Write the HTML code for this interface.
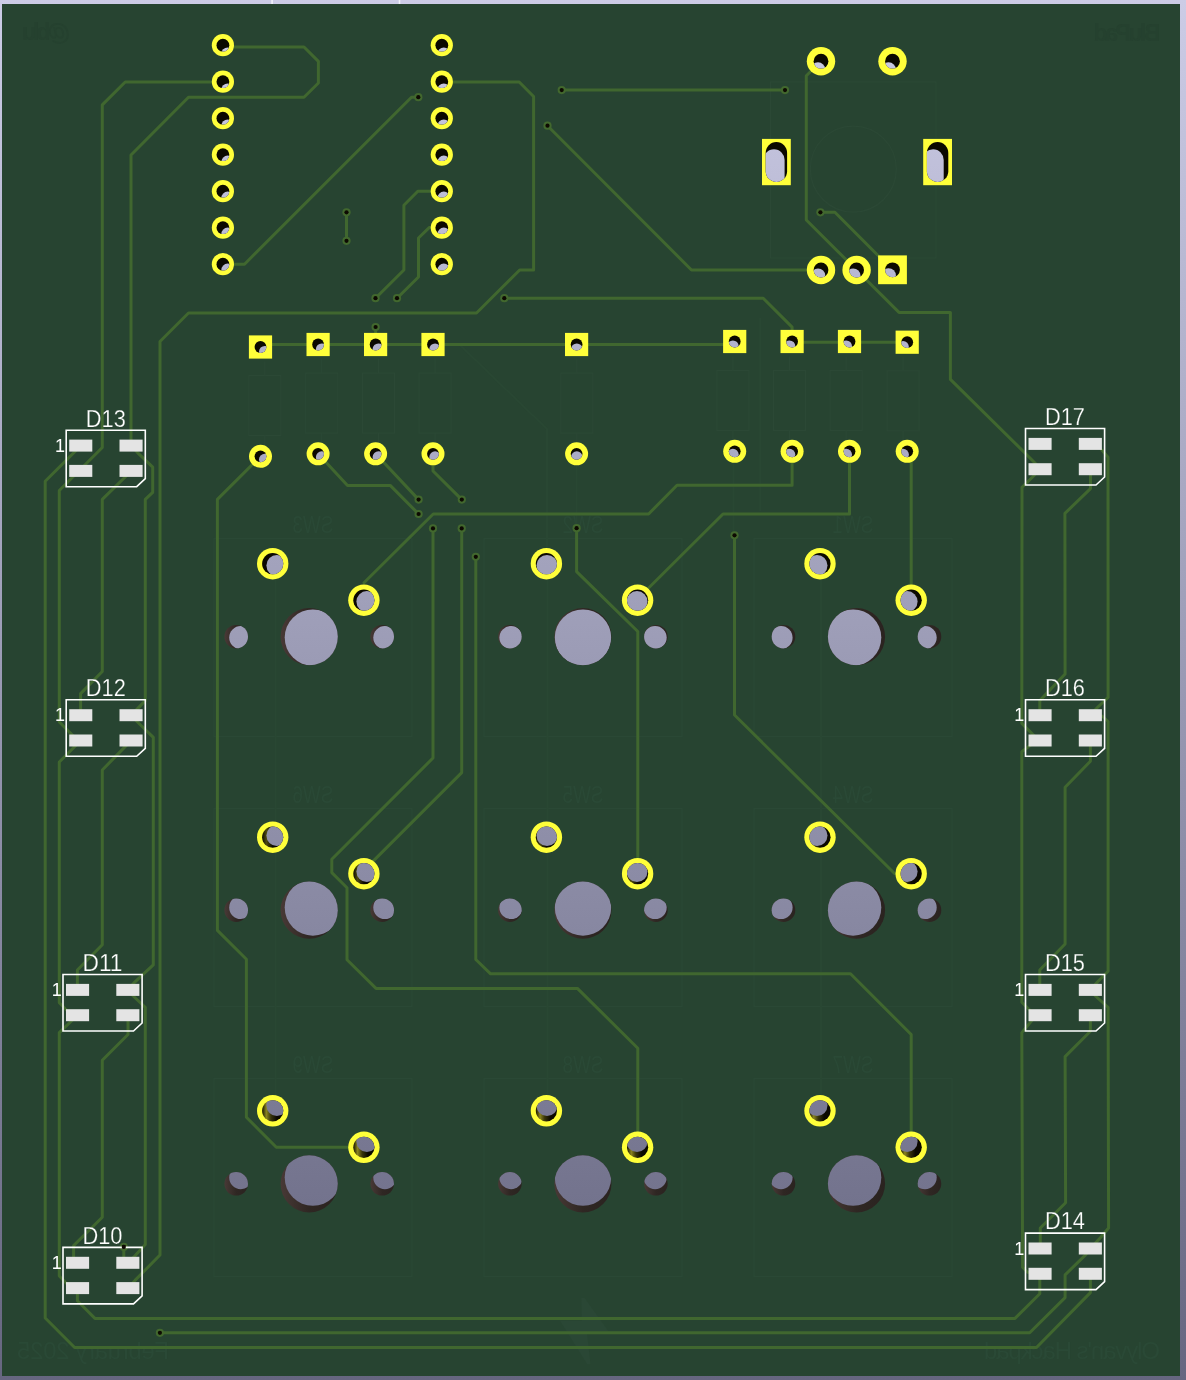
<!DOCTYPE html>
<html lang="en"><head><meta charset="utf-8"><title>Hackpad PCB 3D view</title>
<style>
html,body{margin:0;padding:0;width:1186px;height:1380px;overflow:hidden;background:linear-gradient(#cccce6,#666680);}
svg{display:block;position:absolute;left:0;top:0;will-change:transform;font-family:"Liberation Sans",sans-serif;}
</style></head><body>
<svg width="1186" height="1380" viewBox="0 0 1186 1380">
<defs>
<linearGradient id="bg" gradientUnits="userSpaceOnUse" x1="0" y1="0" x2="0" y2="1380"><stop offset="0" stop-color="#cccce6"/><stop offset="1" stop-color="#666680"/></linearGradient>
<linearGradient id="gw3"><stop offset="0" stop-color="#151200"/><stop offset="0.2" stop-color="#8a8420"/><stop offset="0.42" stop-color="#38340a"/><stop offset="0.7" stop-color="#0b0900"/></linearGradient>
<linearGradient id="gw2"><stop offset="0" stop-color="#0f0c00"/><stop offset="0.2" stop-color="#4c4810"/><stop offset="0.5" stop-color="#0b0900"/></linearGradient>
<linearGradient id="gnp"><stop offset="0" stop-color="#483936"/><stop offset="0.5" stop-color="#2f2723"/><stop offset="1" stop-color="#2a2320"/></linearGradient>
<clipPath id="h1"><circle cx="222.9" cy="45.2" r="6.4"/></clipPath>
<clipPath id="h2"><circle cx="441.8" cy="45.2" r="6.4"/></clipPath>
<clipPath id="h3"><circle cx="222.9" cy="81.7" r="6.4"/></clipPath>
<clipPath id="h4"><circle cx="441.8" cy="81.7" r="6.4"/></clipPath>
<clipPath id="h5"><circle cx="222.9" cy="118.2" r="6.4"/></clipPath>
<clipPath id="h6"><circle cx="441.8" cy="118.2" r="6.4"/></clipPath>
<clipPath id="h7"><circle cx="222.9" cy="154.7" r="6.4"/></clipPath>
<clipPath id="h8"><circle cx="441.8" cy="154.7" r="6.4"/></clipPath>
<clipPath id="h9"><circle cx="222.9" cy="191.2" r="6.4"/></clipPath>
<clipPath id="h10"><circle cx="441.8" cy="191.2" r="6.4"/></clipPath>
<clipPath id="h11"><circle cx="222.9" cy="227.7" r="6.4"/></clipPath>
<clipPath id="h12"><circle cx="441.8" cy="227.7" r="6.4"/></clipPath>
<clipPath id="h13"><circle cx="222.9" cy="264.2" r="6.4"/></clipPath>
<clipPath id="h14"><circle cx="441.8" cy="264.2" r="6.4"/></clipPath>
<clipPath id="h15"><circle cx="821.0" cy="61.2" r="7.4"/></clipPath>
<clipPath id="h16"><circle cx="892.5" cy="61.2" r="7.4"/></clipPath>
<clipPath id="h17"><circle cx="821.0" cy="270.0" r="7.4"/></clipPath>
<clipPath id="h18"><circle cx="856.6" cy="270.0" r="7.4"/></clipPath>
<clipPath id="h19"><circle cx="892.5" cy="269.8" r="7.4"/></clipPath>
<clipPath id="h20"><rect x="765.7" y="142" width="21.4" height="40" rx="10.7"/></clipPath>
<clipPath id="h21"><rect x="926.9" y="142" width="21.4" height="40" rx="10.7"/></clipPath>
<clipPath id="h22"><circle cx="260.5" cy="347.0" r="5.9"/></clipPath>
<clipPath id="h23"><circle cx="260.5" cy="456.3" r="5.9"/></clipPath>
<clipPath id="h24"><circle cx="318.1" cy="344.5" r="5.9"/></clipPath>
<clipPath id="h25"><circle cx="318.1" cy="453.8" r="5.9"/></clipPath>
<clipPath id="h26"><circle cx="375.6" cy="344.5" r="5.9"/></clipPath>
<clipPath id="h27"><circle cx="375.6" cy="453.8" r="5.9"/></clipPath>
<clipPath id="h28"><circle cx="433.0" cy="344.5" r="5.9"/></clipPath>
<clipPath id="h29"><circle cx="433.0" cy="453.8" r="5.9"/></clipPath>
<clipPath id="h30"><circle cx="576.6" cy="344.5" r="5.9"/></clipPath>
<clipPath id="h31"><circle cx="576.6" cy="453.8" r="5.9"/></clipPath>
<clipPath id="h32"><circle cx="734.7" cy="341.5" r="5.9"/></clipPath>
<clipPath id="h33"><circle cx="734.7" cy="451.3" r="5.9"/></clipPath>
<clipPath id="h34"><circle cx="792.1" cy="341.5" r="5.9"/></clipPath>
<clipPath id="h35"><circle cx="792.1" cy="451.3" r="5.9"/></clipPath>
<clipPath id="h36"><circle cx="849.5" cy="341.5" r="5.9"/></clipPath>
<clipPath id="h37"><circle cx="849.5" cy="451.3" r="5.9"/></clipPath>
<clipPath id="h38"><circle cx="907.2" cy="342.2" r="5.9"/></clipPath>
<clipPath id="h39"><circle cx="907.2" cy="451.3" r="5.9"/></clipPath>
<clipPath id="h40"><circle cx="309.2" cy="636.7" r="28.6"/></clipPath>
<clipPath id="h41"><circle cx="236.2" cy="636.7" r="11.8"/></clipPath>
<clipPath id="h42"><circle cx="382.2" cy="636.7" r="11.8"/></clipPath>
<clipPath id="h43"><circle cx="272.7" cy="563.7" r="10.6"/></clipPath>
<clipPath id="h44"><circle cx="363.9" cy="600.2" r="10.6"/></clipPath>
<clipPath id="h45"><circle cx="582.9" cy="636.7" r="28.6"/></clipPath>
<clipPath id="h46"><circle cx="509.9" cy="636.7" r="11.8"/></clipPath>
<clipPath id="h47"><circle cx="655.9" cy="636.7" r="11.8"/></clipPath>
<clipPath id="h48"><circle cx="546.4" cy="563.7" r="10.6"/></clipPath>
<clipPath id="h49"><circle cx="637.6" cy="600.2" r="10.6"/></clipPath>
<clipPath id="h50"><circle cx="856.5" cy="636.7" r="28.6"/></clipPath>
<clipPath id="h51"><circle cx="783.5" cy="636.7" r="11.8"/></clipPath>
<clipPath id="h52"><circle cx="929.5" cy="636.7" r="11.8"/></clipPath>
<clipPath id="h53"><circle cx="820.0" cy="563.7" r="10.6"/></clipPath>
<clipPath id="h54"><circle cx="911.2" cy="600.2" r="10.6"/></clipPath>
<clipPath id="h55"><circle cx="309.2" cy="910.2" r="28.6"/></clipPath>
<clipPath id="h56"><circle cx="236.2" cy="910.2" r="11.8"/></clipPath>
<clipPath id="h57"><circle cx="382.2" cy="910.2" r="11.8"/></clipPath>
<clipPath id="h58"><circle cx="272.7" cy="837.2" r="10.6"/></clipPath>
<clipPath id="h59"><circle cx="363.9" cy="873.7" r="10.6"/></clipPath>
<clipPath id="h60"><circle cx="582.9" cy="910.2" r="28.6"/></clipPath>
<clipPath id="h61"><circle cx="509.9" cy="910.2" r="11.8"/></clipPath>
<clipPath id="h62"><circle cx="655.9" cy="910.2" r="11.8"/></clipPath>
<clipPath id="h63"><circle cx="546.4" cy="837.2" r="10.6"/></clipPath>
<clipPath id="h64"><circle cx="637.6" cy="873.7" r="10.6"/></clipPath>
<clipPath id="h65"><circle cx="856.5" cy="910.2" r="28.6"/></clipPath>
<clipPath id="h66"><circle cx="783.5" cy="910.2" r="11.8"/></clipPath>
<clipPath id="h67"><circle cx="929.5" cy="910.2" r="11.8"/></clipPath>
<clipPath id="h68"><circle cx="820.0" cy="837.2" r="10.6"/></clipPath>
<clipPath id="h69"><circle cx="911.2" cy="873.7" r="10.6"/></clipPath>
<clipPath id="h70"><circle cx="309.2" cy="1183.8" r="28.6"/></clipPath>
<clipPath id="h71"><circle cx="236.2" cy="1183.8" r="11.8"/></clipPath>
<clipPath id="h72"><circle cx="382.2" cy="1183.8" r="11.8"/></clipPath>
<clipPath id="h73"><circle cx="272.7" cy="1110.8" r="10.6"/></clipPath>
<clipPath id="h74"><circle cx="363.9" cy="1147.3" r="10.6"/></clipPath>
<clipPath id="h75"><circle cx="582.9" cy="1183.8" r="28.6"/></clipPath>
<clipPath id="h76"><circle cx="509.9" cy="1183.8" r="11.8"/></clipPath>
<clipPath id="h77"><circle cx="655.9" cy="1183.8" r="11.8"/></clipPath>
<clipPath id="h78"><circle cx="546.4" cy="1110.8" r="10.6"/></clipPath>
<clipPath id="h79"><circle cx="637.6" cy="1147.3" r="10.6"/></clipPath>
<clipPath id="h80"><circle cx="856.5" cy="1183.8" r="28.6"/></clipPath>
<clipPath id="h81"><circle cx="783.5" cy="1183.8" r="11.8"/></clipPath>
<clipPath id="h82"><circle cx="929.5" cy="1183.8" r="11.8"/></clipPath>
<clipPath id="h83"><circle cx="820.0" cy="1110.8" r="10.6"/></clipPath>
<clipPath id="h84"><circle cx="911.2" cy="1147.3" r="10.6"/></clipPath>
</defs>
<rect x="0" y="0" width="1186" height="1380" fill="url(#bg)"/>
<rect x="271.3" y="0" width="1.6" height="4" fill="#f2f2fa"/><rect x="398.7" y="0" width="1.6" height="4" fill="#f2f2fa"/>
<rect x="2" y="4" width="1178" height="1372" fill="#274431"/>
<g fill="none" stroke="#2a4835" stroke-width="1.4">
<rect x="213.9" y="538.6" width="198" height="198"/>
<rect x="484.0" y="538.6" width="198" height="198"/>
<rect x="754.1" y="538.6" width="198" height="198"/>
<rect x="213.9" y="808.5" width="198" height="198"/>
<rect x="484.0" y="808.5" width="198" height="198"/>
<rect x="754.1" y="808.5" width="198" height="198"/>
<rect x="213.9" y="1078.6" width="198" height="198"/>
<rect x="484.0" y="1078.6" width="198" height="198"/>
<rect x="754.1" y="1078.6" width="198" height="198"/>
</g>
<g fill="#2a4936" font-size="24.5" text-anchor="middle">
<text transform="translate(312.9 533.4) scale(-1 1)" textLength="41" lengthAdjust="spacingAndGlyphs">SW3</text>
<text transform="translate(583.0 533.4) scale(-1 1)" textLength="41" lengthAdjust="spacingAndGlyphs">SW2</text>
<text transform="translate(853.1 533.4) scale(-1 1)" textLength="41" lengthAdjust="spacingAndGlyphs">SW1</text>
<text transform="translate(312.9 803.3) scale(-1 1)" textLength="41" lengthAdjust="spacingAndGlyphs">SW6</text>
<text transform="translate(583.0 803.3) scale(-1 1)" textLength="41" lengthAdjust="spacingAndGlyphs">SW5</text>
<text transform="translate(853.1 803.3) scale(-1 1)" textLength="41" lengthAdjust="spacingAndGlyphs">SW4</text>
<text transform="translate(312.9 1073.4) scale(-1 1)" textLength="41" lengthAdjust="spacingAndGlyphs">SW9</text>
<text transform="translate(583.0 1073.4) scale(-1 1)" textLength="41" lengthAdjust="spacingAndGlyphs">SW8</text>
<text transform="translate(853.1 1073.4) scale(-1 1)" textLength="41" lengthAdjust="spacingAndGlyphs">SW7</text>
<text transform="translate(93 1359) scale(-1 1)" font-size="24" textLength="152">February 2025</text>
<text transform="translate(1072 1359) scale(-1 1)" font-size="24" textLength="176">Olyvan's Hackpad</text>
<text transform="translate(1127 40.5) scale(-1 1)" font-size="23" font-weight="bold" textLength="67" fill="#25412f">BluPad</text>
<text transform="translate(46 40) scale(-1 1)" font-size="23" font-weight="bold" textLength="48" fill="#25412f">@blu</text>
</g>
<g fill="none" stroke="#2b4835" stroke-width="1.2">
<rect x="248.8" y="375.6" width="32" height="60"/>
<path d="M264.8 375.6v-14M264.8 435.6v14"/>
<rect x="305.7" y="373.1" width="32" height="60"/>
<path d="M321.7 373.1v-14M321.7 433.1v14"/>
<rect x="362.4" y="373.1" width="32" height="60"/>
<path d="M378.4 373.1v-14M378.4 433.1v14"/>
<rect x="419.1" y="373.1" width="32" height="60"/>
<path d="M435.1 373.1v-14M435.1 433.1v14"/>
<rect x="560.8" y="373.1" width="32" height="60"/>
<path d="M576.8 373.1v-14M576.8 433.1v14"/>
<rect x="716.9" y="370.4" width="32" height="60"/>
<path d="M732.9 370.4v-14M732.9 430.4v14"/>
<rect x="773.5" y="370.4" width="32" height="60"/>
<path d="M789.5 370.4v-14M789.5 430.4v14"/>
<rect x="830.2" y="370.4" width="32" height="60"/>
<path d="M846.2 370.4v-14M846.2 430.4v14"/>
<rect x="887.1" y="370.8" width="32" height="60"/>
<path d="M903.1 370.8v-14M903.1 430.8v14"/>
<circle cx="853.3" cy="169.1" r="43"/>
<rect x="770.4" y="82" width="165.6" height="176"/>
</g>
<polygon points="581.3,1298.1 584.7,1298.1 608.3,1331 586.8,1331 590.6,1364.3 587.2,1364.3 559.8,1320.5 581.7,1320.5" fill="#2a4735"/>
<g fill="none" stroke="#294733" stroke-width="2" stroke-linejoin="round">
<polyline points="275.6,563.0 275.6,1111.0" stroke="#294733" stroke-width="2" />
<polyline points="547.5,563.0 547.5,1111.0" stroke="#294733" stroke-width="2" />
<polyline points="821.0,563.0 821.0,1111.0" stroke="#294733" stroke-width="2" />
<polyline points="576.6,454.0 576.6,528.0" stroke="#294733" stroke-width="2" />
<polyline points="733.5,452.0 733.5,535.0" stroke="#294733" stroke-width="2" />
<polyline points="760.2,318.0 760.2,511.0" stroke="#294733" stroke-width="2" />
<polyline points="460.0,345.0 547.0,429.0 547.0,563.0" stroke="#294733" stroke-width="2" />
</g>
<g fill="none" stroke-linejoin="round" stroke-linecap="round">
<polyline points="223.0,47.0 304.0,47.0 318.4,61.4 318.4,83.0 304.0,97.2 188.5,97.2 131.0,155.0 131.0,446.0" stroke="#40672f" stroke-width="3.0" />
<polyline points="223.0,82.0 125.2,82.0 102.3,104.9 102.3,447.5 59.3,490.5 59.3,722.0 77.7,740.4 80.9,740.4 59.3,762.0 59.3,1002.8 71.7,1015.2 77.5,1015.2 59.3,1032.6 59.3,1276.0 71.0,1288.0 77.4,1288.0 77.4,1300.7 94.9,1318.4 1015.0,1318.4 1039.8,1293.8 1039.8,1274.0" stroke="#40672f" stroke-width="3.0" />
<polyline points="223.0,264.2 244.5,264.2 411.5,97.2 418.3,97.2" stroke="#40672f" stroke-width="3.0" />
<polyline points="441.8,82.0 519.2,82.0 533.6,96.5 533.6,270.0 519.7,270.0 476.5,313.0 188.5,313.0 160.0,341.5 160.0,1255.0 135.0,1280.4 128.0,1288.0" stroke="#40672f" stroke-width="3.0" />
<polyline points="441.8,191.2 417.8,191.2 403.9,205.2 403.9,270.0 375.5,298.2" stroke="#40672f" stroke-width="3.0" />
<polyline points="441.8,227.6 429.2,227.6 418.5,238.0 418.5,277.0 397.0,298.2" stroke="#40672f" stroke-width="3.0" />
<polyline points="346.5,212.3 346.5,240.8" stroke="#40672f" stroke-width="3.0" />
<polyline points="561.7,90.1 785.0,90.1" stroke="#40672f" stroke-width="3.0" />
<polyline points="547.5,125.7 691.5,270.0 821.0,270.0" stroke="#40672f" stroke-width="3.0" />
<polyline points="821.0,61.2 806.3,75.7 806.3,220.0 899.0,312.4 950.4,312.4 950.4,379.4 1034.5,462.5 1040.0,469.0" stroke="#40672f" stroke-width="3.0" />
<polyline points="820.4,212.3 834.9,212.3 892.5,270.0" stroke="#40672f" stroke-width="3.0" />
<polyline points="260.5,344.5 734.7,344.5" stroke="#40672f" stroke-width="3.0" />
<polyline points="792.1,342.2 907.2,342.2" stroke="#40672f" stroke-width="3.0" />
<polyline points="375.6,327.0 375.6,344.5" stroke="#40672f" stroke-width="3.0" />
<polyline points="504.3,298.2 763.2,298.2 792.1,327.1 792.1,341.5" stroke="#40672f" stroke-width="3.0" />
<polyline points="260.5,456.3 217.4,499.4 217.4,930.4 246.4,959.3 246.4,1117.3 276.3,1147.2 363.9,1147.2" stroke="#40672f" stroke-width="3.0" />
<polyline points="318.1,453.8 347.5,485.4 390.2,485.4 418.6,514.0" stroke="#40672f" stroke-width="3.0" />
<polyline points="375.6,453.8 418.6,499.6" stroke="#40672f" stroke-width="3.0" />
<polyline points="433.0,453.8 433.0,471.0 461.8,499.6" stroke="#40672f" stroke-width="3.0" />
<polyline points="433.0,528.4 433.0,758.0 331.8,859.2 331.8,872.6 347.0,887.7 347.0,959.8 376.0,988.4 577.4,988.4 637.8,1048.2 637.8,1147.6" stroke="#40672f" stroke-width="3.0" />
<polyline points="461.7,528.4 461.7,772.6 363.9,870.4" stroke="#40672f" stroke-width="3.0" />
<polyline points="475.8,556.8 475.8,959.5 490.6,973.8 850.5,973.8 911.2,1034.5 911.2,1147.6" stroke="#40672f" stroke-width="3.0" />
<polyline points="364.0,582.7 433.2,514.0 648.6,514.0 677.0,485.2 792.1,485.2 792.1,451.3" stroke="#40672f" stroke-width="3.0" />
<polyline points="849.5,451.3 849.5,514.0 723.0,514.0 637.3,599.2" stroke="#40672f" stroke-width="3.0" />
<polyline points="907.2,451.3 911.2,457.0 911.2,600.0" stroke="#40672f" stroke-width="3.0" />
<polyline points="576.6,528.2 576.6,571.6 637.8,631.5 637.8,873.3" stroke="#40672f" stroke-width="3.0" />
<polyline points="734.5,535.3 734.5,715.0 894.8,873.8 911.2,873.3" stroke="#40672f" stroke-width="3.0" />
<polyline points="80.9,445.6 45.2,481.3 45.2,1318.0 74.6,1347.5 1036.5,1347.5 1090.4,1292.6 1090.4,1274.0" stroke="#40672f" stroke-width="3.0" />
<polyline points="131.3,445.6 137.5,452.6 152.7,467.1 152.7,492.4 145.3,499.4 145.3,700.6 131.3,715.1 137.5,722.0 153.3,737.3 153.3,964.9 133.7,983.2 127.5,989.9 133.7,996.5 145.3,1007.3 145.3,1244.4 135.0,1255.8 127.5,1262.9" stroke="#40672f" stroke-width="3.0" />
<polyline points="131.3,471.0 102.3,499.4 102.3,671.5 80.6,693.6 80.6,715.0" stroke="#40672f" stroke-width="3.0" />
<polyline points="131.3,740.4 102.3,770.0 102.3,944.7 77.4,970.0 77.4,990.0" stroke="#40672f" stroke-width="3.0" />
<polyline points="128.0,1015.2 128.0,1034.5 102.3,1060.2 102.3,1217.2 73.6,1245.6 73.6,1262.0" stroke="#40672f" stroke-width="3.0" />
<polyline points="123.8,1246.9 123.8,1262.0" stroke="#40672f" stroke-width="3.0" />
<polyline points="159.9,1332.8 1029.7,1332.8 1065.1,1297.6 1065.1,1274.9 1085.8,1254.6 1090.4,1248.5" stroke="#40672f" stroke-width="3.0" />
<polyline points="1040.0,469.0 1033.8,475.8 1022.0,487.4 1021.8,723.4 1036.0,737.6 1036.0,741.0 1021.8,751.8 1021.8,1002.2 1034.0,1014.4 1034.0,1018.0 1021.8,1032.6 1022.6,1267.3 1027.6,1272.3 1040.0,1274.0" stroke="#40672f" stroke-width="3.0" />
<polyline points="1090.5,469.0 1090.5,488.6 1064.9,513.4 1065.1,674.0 1039.8,700.6 1039.8,715.0" stroke="#40672f" stroke-width="3.0" />
<polyline points="1090.4,740.0 1090.4,761.3 1065.1,787.2 1065.1,944.0 1039.8,970.0 1039.8,990.0" stroke="#40672f" stroke-width="3.0" />
<polyline points="1090.4,1015.0 1090.4,1031.3 1065.1,1056.6 1065.6,1202.8 1040.3,1228.0 1040.3,1248.0" stroke="#40672f" stroke-width="3.0" />
<polyline points="1101.8,450.0 1108.0,457.2 1108.1,697.4 1097.4,707.5 1090.5,715.0 1102.0,716.0 1108.1,721.5 1108.1,971.2 1097.4,982.0 1090.5,990.0 1096.0,996.5 1108.1,1007.3 1108.6,1228.0 1101.0,1237.0 1090.4,1248.5" stroke="#40672f" stroke-width="3.0" />
</g>
<circle cx="418.3" cy="97.2" r="4.1" fill="#42682e"/>
<circle cx="418.3" cy="97.2" r="2.1" fill="#0e0a02"/>
<circle cx="561.7" cy="90.1" r="4.1" fill="#42682e"/>
<circle cx="561.7" cy="90.1" r="2.1" fill="#0e0a02"/>
<circle cx="547.5" cy="125.7" r="4.1" fill="#42682e"/>
<circle cx="547.5" cy="125.7" r="2.1" fill="#0e0a02"/>
<circle cx="785.0" cy="90.1" r="4.1" fill="#42682e"/>
<circle cx="785.0" cy="90.1" r="2.1" fill="#0e0a02"/>
<circle cx="820.4" cy="212.3" r="4.1" fill="#42682e"/>
<circle cx="820.4" cy="212.3" r="2.1" fill="#0e0a02"/>
<circle cx="346.5" cy="212.3" r="4.1" fill="#42682e"/>
<circle cx="346.5" cy="212.3" r="2.1" fill="#0e0a02"/>
<circle cx="346.5" cy="240.8" r="4.1" fill="#42682e"/>
<circle cx="346.5" cy="240.8" r="2.1" fill="#0e0a02"/>
<circle cx="375.5" cy="298.2" r="4.1" fill="#42682e"/>
<circle cx="375.5" cy="298.2" r="2.1" fill="#0e0a02"/>
<circle cx="397.0" cy="298.2" r="4.1" fill="#42682e"/>
<circle cx="397.0" cy="298.2" r="2.1" fill="#0e0a02"/>
<circle cx="504.3" cy="298.2" r="4.1" fill="#42682e"/>
<circle cx="504.3" cy="298.2" r="2.1" fill="#0e0a02"/>
<circle cx="375.6" cy="327.0" r="4.1" fill="#42682e"/>
<circle cx="375.6" cy="327.0" r="2.1" fill="#0e0a02"/>
<circle cx="418.6" cy="499.6" r="4.1" fill="#42682e"/>
<circle cx="418.6" cy="499.6" r="2.1" fill="#0e0a02"/>
<circle cx="461.8" cy="499.6" r="4.1" fill="#42682e"/>
<circle cx="461.8" cy="499.6" r="2.1" fill="#0e0a02"/>
<circle cx="418.6" cy="514.0" r="4.1" fill="#42682e"/>
<circle cx="418.6" cy="514.0" r="2.1" fill="#0e0a02"/>
<circle cx="433.0" cy="528.4" r="4.1" fill="#42682e"/>
<circle cx="433.0" cy="528.4" r="2.1" fill="#0e0a02"/>
<circle cx="461.7" cy="528.4" r="4.1" fill="#42682e"/>
<circle cx="461.7" cy="528.4" r="2.1" fill="#0e0a02"/>
<circle cx="475.8" cy="556.8" r="4.1" fill="#42682e"/>
<circle cx="475.8" cy="556.8" r="2.1" fill="#0e0a02"/>
<circle cx="576.6" cy="528.2" r="4.1" fill="#42682e"/>
<circle cx="576.6" cy="528.2" r="2.1" fill="#0e0a02"/>
<circle cx="734.5" cy="535.3" r="4.1" fill="#42682e"/>
<circle cx="734.5" cy="535.3" r="2.1" fill="#0e0a02"/>
<circle cx="123.8" cy="1246.9" r="4.1" fill="#42682e"/>
<circle cx="123.8" cy="1246.9" r="2.1" fill="#0e0a02"/>
<circle cx="159.9" cy="1332.8" r="4.1" fill="#42682e"/>
<circle cx="159.9" cy="1332.8" r="2.1" fill="#0e0a02"/>
<circle cx="222.9" cy="45.2" r="11.1" fill="#ffff3a"/>
<circle cx="222.9" cy="45.2" r="6.4" fill="#0b0900"/>
<circle cx="227.7" cy="53.8" r="6.3" fill="url(#bg)" clip-path="url(#h1)"/>
<circle cx="441.8" cy="45.2" r="11.1" fill="#ffff3a"/>
<circle cx="441.8" cy="45.2" r="6.4" fill="#0b0900"/>
<circle cx="443.8" cy="53.8" r="6.3" fill="url(#bg)" clip-path="url(#h2)"/>
<circle cx="222.9" cy="81.7" r="11.1" fill="#ffff3a"/>
<circle cx="222.9" cy="81.7" r="6.4" fill="#0b0900"/>
<circle cx="227.7" cy="89.8" r="6.3" fill="url(#bg)" clip-path="url(#h3)"/>
<circle cx="441.8" cy="81.7" r="11.1" fill="#ffff3a"/>
<circle cx="441.8" cy="81.7" r="6.4" fill="#0b0900"/>
<circle cx="443.8" cy="89.8" r="6.3" fill="url(#bg)" clip-path="url(#h4)"/>
<circle cx="222.9" cy="118.2" r="11.1" fill="#ffff3a"/>
<circle cx="222.9" cy="118.2" r="6.4" fill="#0b0900"/>
<circle cx="227.7" cy="125.8" r="6.3" fill="url(#bg)" clip-path="url(#h5)"/>
<circle cx="441.8" cy="118.2" r="11.1" fill="#ffff3a"/>
<circle cx="441.8" cy="118.2" r="6.4" fill="#0b0900"/>
<circle cx="443.8" cy="125.8" r="6.3" fill="url(#bg)" clip-path="url(#h6)"/>
<circle cx="222.9" cy="154.7" r="11.1" fill="#ffff3a"/>
<circle cx="222.9" cy="154.7" r="6.4" fill="#0b0900"/>
<circle cx="227.7" cy="161.9" r="6.3" fill="url(#bg)" clip-path="url(#h7)"/>
<circle cx="441.8" cy="154.7" r="11.1" fill="#ffff3a"/>
<circle cx="441.8" cy="154.7" r="6.4" fill="#0b0900"/>
<circle cx="443.8" cy="161.9" r="6.3" fill="url(#bg)" clip-path="url(#h8)"/>
<circle cx="222.9" cy="191.2" r="11.1" fill="#ffff3a"/>
<circle cx="222.9" cy="191.2" r="6.4" fill="#0b0900"/>
<circle cx="227.7" cy="197.9" r="6.3" fill="url(#bg)" clip-path="url(#h9)"/>
<circle cx="441.8" cy="191.2" r="11.1" fill="#ffff3a"/>
<circle cx="441.8" cy="191.2" r="6.4" fill="#0b0900"/>
<circle cx="443.8" cy="197.9" r="6.3" fill="url(#bg)" clip-path="url(#h10)"/>
<circle cx="222.9" cy="227.7" r="11.1" fill="#ffff3a"/>
<circle cx="222.9" cy="227.7" r="6.4" fill="#0b0900"/>
<circle cx="227.7" cy="233.9" r="6.3" fill="url(#bg)" clip-path="url(#h11)"/>
<circle cx="441.8" cy="227.7" r="11.1" fill="#ffff3a"/>
<circle cx="441.8" cy="227.7" r="6.4" fill="#0b0900"/>
<circle cx="443.8" cy="233.9" r="6.3" fill="url(#bg)" clip-path="url(#h12)"/>
<circle cx="222.9" cy="264.2" r="11.1" fill="#ffff3a"/>
<circle cx="222.9" cy="264.2" r="6.4" fill="#0b0900"/>
<circle cx="227.7" cy="269.9" r="6.3" fill="url(#bg)" clip-path="url(#h13)"/>
<circle cx="441.8" cy="264.2" r="11.1" fill="#ffff3a"/>
<circle cx="441.8" cy="264.2" r="6.4" fill="#0b0900"/>
<circle cx="443.8" cy="269.9" r="6.3" fill="url(#bg)" clip-path="url(#h14)"/>
<circle cx="821.0" cy="61.2" r="14.2" fill="#ffff3a"/>
<circle cx="821.0" cy="61.2" r="7.4" fill="#0b0900"/>
<circle cx="818.0" cy="69.6" r="7.3" fill="url(#bg)" clip-path="url(#h15)"/>
<circle cx="892.5" cy="61.2" r="14.2" fill="#ffff3a"/>
<circle cx="892.5" cy="61.2" r="7.4" fill="#0b0900"/>
<circle cx="888.6" cy="69.6" r="7.3" fill="url(#bg)" clip-path="url(#h16)"/>
<circle cx="821.0" cy="270.0" r="14.2" fill="#ffff3a"/>
<circle cx="821.0" cy="270.0" r="7.4" fill="#0b0900"/>
<circle cx="818.0" cy="275.7" r="7.3" fill="url(#bg)" clip-path="url(#h17)"/>
<circle cx="856.6" cy="270.0" r="14.2" fill="#ffff3a"/>
<circle cx="856.6" cy="270.0" r="7.4" fill="#0b0900"/>
<circle cx="853.2" cy="275.7" r="7.3" fill="url(#bg)" clip-path="url(#h18)"/>
<rect x="878.1" y="255.4" width="28.8" height="28.8" fill="#ffff3a"/>
<circle cx="892.5" cy="269.8" r="7.4" fill="#0b0900"/>
<circle cx="888.6" cy="275.5" r="7.3" fill="url(#bg)" clip-path="url(#h19)"/>
<rect x="762.0" y="138.9" width="28.8" height="46.3" fill="#ffff3a"/>
<rect x="765.7" y="142" width="21.4" height="40" rx="10.7" fill="#0b0900"/>
<rect x="763.4" y="149.3" width="21.2" height="39.6" rx="10.6" fill="url(#bg)" clip-path="url(#h20)"/>
<rect x="923.2" y="138.9" width="28.8" height="46.3" fill="#ffff3a"/>
<rect x="926.9" y="142" width="21.4" height="40" rx="10.7" fill="#0b0900"/>
<rect x="922.5" y="149.3" width="21.2" height="39.6" rx="10.6" fill="url(#bg)" clip-path="url(#h21)"/>
<rect x="248.9" y="335.4" width="23.2" height="23.2" fill="#ffff3a"/>
<circle cx="260.5" cy="347.0" r="5.9" fill="#0b0900"/>
<circle cx="264.8" cy="351.7" r="5.8" fill="url(#bg)" clip-path="url(#h22)"/>
<circle cx="260.5" cy="456.3" r="11.5" fill="#ffff3a"/>
<circle cx="260.5" cy="456.3" r="5.9" fill="#0b0900"/>
<circle cx="264.8" cy="459.5" r="5.8" fill="url(#bg)" clip-path="url(#h23)"/>
<rect x="306.5" y="332.9" width="23.2" height="23.2" fill="#ffff3a"/>
<circle cx="318.1" cy="344.5" r="5.9" fill="#0b0900"/>
<circle cx="321.7" cy="349.2" r="5.8" fill="url(#bg)" clip-path="url(#h24)"/>
<circle cx="318.1" cy="453.8" r="11.5" fill="#ffff3a"/>
<circle cx="318.1" cy="453.8" r="5.9" fill="#0b0900"/>
<circle cx="321.7" cy="457.1" r="5.8" fill="url(#bg)" clip-path="url(#h25)"/>
<rect x="364.0" y="332.9" width="23.2" height="23.2" fill="#ffff3a"/>
<circle cx="375.6" cy="344.5" r="5.9" fill="#0b0900"/>
<circle cx="378.4" cy="349.2" r="5.8" fill="url(#bg)" clip-path="url(#h26)"/>
<circle cx="375.6" cy="453.8" r="11.5" fill="#ffff3a"/>
<circle cx="375.6" cy="453.8" r="5.9" fill="#0b0900"/>
<circle cx="378.4" cy="457.1" r="5.8" fill="url(#bg)" clip-path="url(#h27)"/>
<rect x="421.4" y="332.9" width="23.2" height="23.2" fill="#ffff3a"/>
<circle cx="433.0" cy="344.5" r="5.9" fill="#0b0900"/>
<circle cx="435.1" cy="349.2" r="5.8" fill="url(#bg)" clip-path="url(#h28)"/>
<circle cx="433.0" cy="453.8" r="11.5" fill="#ffff3a"/>
<circle cx="433.0" cy="453.8" r="5.9" fill="#0b0900"/>
<circle cx="435.1" cy="457.1" r="5.8" fill="url(#bg)" clip-path="url(#h29)"/>
<rect x="565.0" y="332.9" width="23.2" height="23.2" fill="#ffff3a"/>
<circle cx="576.6" cy="344.5" r="5.9" fill="#0b0900"/>
<circle cx="576.8" cy="349.2" r="5.8" fill="url(#bg)" clip-path="url(#h30)"/>
<circle cx="576.6" cy="453.8" r="11.5" fill="#ffff3a"/>
<circle cx="576.6" cy="453.8" r="5.9" fill="#0b0900"/>
<circle cx="576.8" cy="457.1" r="5.8" fill="url(#bg)" clip-path="url(#h31)"/>
<rect x="723.1" y="329.9" width="23.2" height="23.2" fill="#ffff3a"/>
<circle cx="734.7" cy="341.5" r="5.9" fill="#0b0900"/>
<circle cx="732.9" cy="346.2" r="5.8" fill="url(#bg)" clip-path="url(#h32)"/>
<circle cx="734.7" cy="451.3" r="11.5" fill="#ffff3a"/>
<circle cx="734.7" cy="451.3" r="5.9" fill="#0b0900"/>
<circle cx="732.9" cy="454.6" r="5.8" fill="url(#bg)" clip-path="url(#h33)"/>
<rect x="780.5" y="329.9" width="23.2" height="23.2" fill="#ffff3a"/>
<circle cx="792.1" cy="341.5" r="5.9" fill="#0b0900"/>
<circle cx="789.5" cy="346.2" r="5.8" fill="url(#bg)" clip-path="url(#h34)"/>
<circle cx="792.1" cy="451.3" r="11.5" fill="#ffff3a"/>
<circle cx="792.1" cy="451.3" r="5.9" fill="#0b0900"/>
<circle cx="789.5" cy="454.6" r="5.8" fill="url(#bg)" clip-path="url(#h35)"/>
<rect x="837.9" y="329.9" width="23.2" height="23.2" fill="#ffff3a"/>
<circle cx="849.5" cy="341.5" r="5.9" fill="#0b0900"/>
<circle cx="846.2" cy="346.2" r="5.8" fill="url(#bg)" clip-path="url(#h36)"/>
<circle cx="849.5" cy="451.3" r="11.5" fill="#ffff3a"/>
<circle cx="849.5" cy="451.3" r="5.9" fill="#0b0900"/>
<circle cx="846.2" cy="454.6" r="5.8" fill="url(#bg)" clip-path="url(#h37)"/>
<rect x="895.6" y="330.6" width="23.2" height="23.2" fill="#ffff3a"/>
<circle cx="907.2" cy="342.2" r="5.9" fill="#0b0900"/>
<circle cx="903.1" cy="346.9" r="5.8" fill="url(#bg)" clip-path="url(#h38)"/>
<circle cx="907.2" cy="451.3" r="11.5" fill="#ffff3a"/>
<circle cx="907.2" cy="451.3" r="5.9" fill="#0b0900"/>
<circle cx="903.1" cy="454.6" r="5.8" fill="url(#bg)" clip-path="url(#h39)"/>
<circle cx="309.2" cy="636.7" r="28.6" fill="url(#gnp)"/>
<circle cx="312.9" cy="637.6" r="28.2" fill="url(#bg)" clip-path="url(#h40)"/>
<circle cx="236.2" cy="636.7" r="11.8" fill="url(#gnp)"/>
<circle cx="240.8" cy="637.6" r="11.6" fill="url(#bg)" clip-path="url(#h41)"/>
<circle cx="382.2" cy="636.7" r="11.8" fill="url(#gnp)"/>
<circle cx="384.9" cy="637.6" r="11.6" fill="url(#bg)" clip-path="url(#h42)"/>
<circle cx="272.7" cy="563.7" r="15.7" fill="#ffff3a"/>
<circle cx="272.7" cy="563.7" r="10.6" fill="#0b0900"/>
<circle cx="276.9" cy="565.5" r="10.5" fill="url(#bg)" clip-path="url(#h43)"/>
<circle cx="363.9" cy="600.2" r="15.7" fill="#ffff3a"/>
<circle cx="363.9" cy="600.2" r="10.6" fill="#0b0900"/>
<circle cx="366.9" cy="601.6" r="10.5" fill="url(#bg)" clip-path="url(#h44)"/>
<circle cx="582.9" cy="636.7" r="28.6" fill="url(#gnp)"/>
<circle cx="583.0" cy="637.6" r="28.2" fill="url(#bg)" clip-path="url(#h45)"/>
<circle cx="509.9" cy="636.7" r="11.8" fill="url(#gnp)"/>
<circle cx="511.0" cy="637.6" r="11.6" fill="url(#bg)" clip-path="url(#h46)"/>
<circle cx="655.9" cy="636.7" r="11.8" fill="url(#gnp)"/>
<circle cx="655.1" cy="637.6" r="11.6" fill="url(#bg)" clip-path="url(#h47)"/>
<circle cx="546.4" cy="563.7" r="15.7" fill="#ffff3a"/>
<circle cx="546.4" cy="563.7" r="10.6" fill="#0b0900"/>
<circle cx="547.0" cy="565.5" r="10.5" fill="url(#bg)" clip-path="url(#h48)"/>
<circle cx="637.6" cy="600.2" r="15.7" fill="#ffff3a"/>
<circle cx="637.6" cy="600.2" r="10.6" fill="#0b0900"/>
<circle cx="637.0" cy="601.6" r="10.5" fill="url(#bg)" clip-path="url(#h49)"/>
<circle cx="856.5" cy="636.7" r="28.6" fill="url(#gnp)"/>
<circle cx="853.1" cy="637.6" r="28.2" fill="url(#bg)" clip-path="url(#h50)"/>
<circle cx="783.5" cy="636.7" r="11.8" fill="url(#gnp)"/>
<circle cx="781.0" cy="637.6" r="11.6" fill="url(#bg)" clip-path="url(#h51)"/>
<circle cx="929.5" cy="636.7" r="11.8" fill="url(#gnp)"/>
<circle cx="925.1" cy="637.6" r="11.6" fill="url(#bg)" clip-path="url(#h52)"/>
<circle cx="820.0" cy="563.7" r="15.7" fill="#ffff3a"/>
<circle cx="820.0" cy="563.7" r="10.6" fill="#0b0900"/>
<circle cx="817.0" cy="565.5" r="10.5" fill="url(#bg)" clip-path="url(#h53)"/>
<circle cx="911.2" cy="600.2" r="15.7" fill="#ffff3a"/>
<circle cx="911.2" cy="600.2" r="10.6" fill="#0b0900"/>
<circle cx="907.1" cy="601.6" r="10.5" fill="url(#bg)" clip-path="url(#h54)"/>
<circle cx="309.2" cy="910.2" r="28.6" fill="url(#gnp)"/>
<circle cx="312.9" cy="907.5" r="28.2" fill="url(#bg)" clip-path="url(#h55)"/>
<circle cx="236.2" cy="910.2" r="11.8" fill="url(#gnp)"/>
<circle cx="240.8" cy="907.5" r="11.6" fill="url(#bg)" clip-path="url(#h56)"/>
<circle cx="382.2" cy="910.2" r="11.8" fill="url(#gnp)"/>
<circle cx="384.9" cy="907.5" r="11.6" fill="url(#bg)" clip-path="url(#h57)"/>
<circle cx="272.7" cy="837.2" r="15.7" fill="#ffff3a"/>
<circle cx="272.7" cy="837.2" r="10.6" fill="url(#gw2)"/>
<circle cx="276.9" cy="835.5" r="10.5" fill="url(#bg)" clip-path="url(#h58)"/>
<circle cx="363.9" cy="873.7" r="15.7" fill="#ffff3a"/>
<circle cx="363.9" cy="873.7" r="10.6" fill="url(#gw2)"/>
<circle cx="366.9" cy="871.5" r="10.5" fill="url(#bg)" clip-path="url(#h59)"/>
<circle cx="582.9" cy="910.2" r="28.6" fill="url(#gnp)"/>
<circle cx="583.0" cy="907.5" r="28.2" fill="url(#bg)" clip-path="url(#h60)"/>
<circle cx="509.9" cy="910.2" r="11.8" fill="url(#gnp)"/>
<circle cx="511.0" cy="907.5" r="11.6" fill="url(#bg)" clip-path="url(#h61)"/>
<circle cx="655.9" cy="910.2" r="11.8" fill="url(#gnp)"/>
<circle cx="655.1" cy="907.5" r="11.6" fill="url(#bg)" clip-path="url(#h62)"/>
<circle cx="546.4" cy="837.2" r="15.7" fill="#ffff3a"/>
<circle cx="546.4" cy="837.2" r="10.6" fill="url(#gw2)"/>
<circle cx="547.0" cy="835.5" r="10.5" fill="url(#bg)" clip-path="url(#h63)"/>
<circle cx="637.6" cy="873.7" r="15.7" fill="#ffff3a"/>
<circle cx="637.6" cy="873.7" r="10.6" fill="url(#gw2)"/>
<circle cx="637.0" cy="871.5" r="10.5" fill="url(#bg)" clip-path="url(#h64)"/>
<circle cx="856.5" cy="910.2" r="28.6" fill="url(#gnp)"/>
<circle cx="853.1" cy="907.5" r="28.2" fill="url(#bg)" clip-path="url(#h65)"/>
<circle cx="783.5" cy="910.2" r="11.8" fill="url(#gnp)"/>
<circle cx="781.0" cy="907.5" r="11.6" fill="url(#bg)" clip-path="url(#h66)"/>
<circle cx="929.5" cy="910.2" r="11.8" fill="url(#gnp)"/>
<circle cx="925.1" cy="907.5" r="11.6" fill="url(#bg)" clip-path="url(#h67)"/>
<circle cx="820.0" cy="837.2" r="15.7" fill="#ffff3a"/>
<circle cx="820.0" cy="837.2" r="10.6" fill="url(#gw2)"/>
<circle cx="817.0" cy="835.5" r="10.5" fill="url(#bg)" clip-path="url(#h68)"/>
<circle cx="911.2" cy="873.7" r="15.7" fill="#ffff3a"/>
<circle cx="911.2" cy="873.7" r="10.6" fill="url(#gw2)"/>
<circle cx="907.1" cy="871.5" r="10.5" fill="url(#bg)" clip-path="url(#h69)"/>
<circle cx="309.2" cy="1183.8" r="28.6" fill="url(#gnp)"/>
<circle cx="312.9" cy="1177.6" r="28.2" fill="url(#bg)" clip-path="url(#h70)"/>
<circle cx="236.2" cy="1183.8" r="11.8" fill="url(#gnp)"/>
<circle cx="240.8" cy="1177.6" r="11.6" fill="url(#bg)" clip-path="url(#h71)"/>
<circle cx="382.2" cy="1183.8" r="11.8" fill="url(#gnp)"/>
<circle cx="384.9" cy="1177.6" r="11.6" fill="url(#bg)" clip-path="url(#h72)"/>
<circle cx="272.7" cy="1110.8" r="15.7" fill="#ffff3a"/>
<circle cx="272.7" cy="1110.8" r="10.6" fill="url(#gw3)"/>
<circle cx="276.9" cy="1105.5" r="10.5" fill="url(#bg)" clip-path="url(#h73)"/>
<circle cx="363.9" cy="1147.3" r="15.7" fill="#ffff3a"/>
<circle cx="363.9" cy="1147.3" r="10.6" fill="url(#gw3)"/>
<circle cx="366.9" cy="1141.6" r="10.5" fill="url(#bg)" clip-path="url(#h74)"/>
<circle cx="582.9" cy="1183.8" r="28.6" fill="url(#gnp)"/>
<circle cx="583.0" cy="1177.6" r="28.2" fill="url(#bg)" clip-path="url(#h75)"/>
<circle cx="509.9" cy="1183.8" r="11.8" fill="url(#gnp)"/>
<circle cx="511.0" cy="1177.6" r="11.6" fill="url(#bg)" clip-path="url(#h76)"/>
<circle cx="655.9" cy="1183.8" r="11.8" fill="url(#gnp)"/>
<circle cx="655.1" cy="1177.6" r="11.6" fill="url(#bg)" clip-path="url(#h77)"/>
<circle cx="546.4" cy="1110.8" r="15.7" fill="#ffff3a"/>
<circle cx="546.4" cy="1110.8" r="10.6" fill="url(#gw3)"/>
<circle cx="547.0" cy="1105.5" r="10.5" fill="url(#bg)" clip-path="url(#h78)"/>
<circle cx="637.6" cy="1147.3" r="15.7" fill="#ffff3a"/>
<circle cx="637.6" cy="1147.3" r="10.6" fill="url(#gw3)"/>
<circle cx="637.0" cy="1141.6" r="10.5" fill="url(#bg)" clip-path="url(#h79)"/>
<circle cx="856.5" cy="1183.8" r="28.6" fill="url(#gnp)"/>
<circle cx="853.1" cy="1177.6" r="28.2" fill="url(#bg)" clip-path="url(#h80)"/>
<circle cx="783.5" cy="1183.8" r="11.8" fill="url(#gnp)"/>
<circle cx="781.0" cy="1177.6" r="11.6" fill="url(#bg)" clip-path="url(#h81)"/>
<circle cx="929.5" cy="1183.8" r="11.8" fill="url(#gnp)"/>
<circle cx="925.1" cy="1177.6" r="11.6" fill="url(#bg)" clip-path="url(#h82)"/>
<circle cx="820.0" cy="1110.8" r="15.7" fill="#ffff3a"/>
<circle cx="820.0" cy="1110.8" r="10.6" fill="url(#gw3)"/>
<circle cx="817.0" cy="1105.5" r="10.5" fill="url(#bg)" clip-path="url(#h83)"/>
<circle cx="911.2" cy="1147.3" r="15.7" fill="#ffff3a"/>
<circle cx="911.2" cy="1147.3" r="10.6" fill="url(#gw3)"/>
<circle cx="907.1" cy="1141.6" r="10.5" fill="url(#bg)" clip-path="url(#h84)"/>
<rect x="69.2" y="439.6" width="23.1" height="12" fill="#e4e4e4"/>
<rect x="69.2" y="464.9" width="23.1" height="12" fill="#e4e4e4"/>
<rect x="119.5" y="439.6" width="23.1" height="12" fill="#e4e4e4"/>
<rect x="119.5" y="464.9" width="23.1" height="12" fill="#e4e4e4"/>
<path d="M66.2 430.2H145.3V478.7L136.7 486.7H66.2Z" fill="none" stroke="#ffffff" stroke-width="1.6"/>
<text x="105.8" y="426.5" font-size="23.8" text-anchor="middle" textLength="40" lengthAdjust="spacingAndGlyphs" fill="#ffffff" stroke="#274431" stroke-width="0.25">D13</text>
<text x="65.0" y="451.6" font-size="18" text-anchor="end" fill="#ffffff" >1</text>
<rect x="69.2" y="709.2" width="23.1" height="12" fill="#e4e4e4"/>
<rect x="69.2" y="734.5" width="23.1" height="12" fill="#e4e4e4"/>
<rect x="119.5" y="709.2" width="23.1" height="12" fill="#e4e4e4"/>
<rect x="119.5" y="734.5" width="23.1" height="12" fill="#e4e4e4"/>
<path d="M66.2 699.8H145.3V748.3L136.7 756.3H66.2Z" fill="none" stroke="#ffffff" stroke-width="1.6"/>
<text x="105.8" y="696.1" font-size="23.8" text-anchor="middle" textLength="40" lengthAdjust="spacingAndGlyphs" fill="#ffffff" stroke="#274431" stroke-width="0.25">D12</text>
<text x="65.0" y="721.2" font-size="18" text-anchor="end" fill="#ffffff" >1</text>
<rect x="66.0" y="983.9" width="23.1" height="12" fill="#e4e4e4"/>
<rect x="66.0" y="1009.2" width="23.1" height="12" fill="#e4e4e4"/>
<rect x="116.3" y="983.9" width="23.1" height="12" fill="#e4e4e4"/>
<rect x="116.3" y="1009.2" width="23.1" height="12" fill="#e4e4e4"/>
<path d="M63.0 974.5H142.1V1023.0L133.5 1031.0H63.0Z" fill="none" stroke="#ffffff" stroke-width="1.6"/>
<text x="102.5" y="970.8" font-size="23.8" text-anchor="middle" textLength="40" lengthAdjust="spacingAndGlyphs" fill="#ffffff" stroke="#274431" stroke-width="0.25">D11</text>
<text x="61.8" y="995.9" font-size="18" text-anchor="end" fill="#ffffff" >1</text>
<rect x="66.0" y="1256.8" width="23.1" height="12" fill="#e4e4e4"/>
<rect x="66.0" y="1282.1" width="23.1" height="12" fill="#e4e4e4"/>
<rect x="116.3" y="1256.8" width="23.1" height="12" fill="#e4e4e4"/>
<rect x="116.3" y="1282.1" width="23.1" height="12" fill="#e4e4e4"/>
<path d="M63.0 1247.4H142.1V1295.9L133.5 1303.9H63.0Z" fill="none" stroke="#ffffff" stroke-width="1.6"/>
<text x="102.5" y="1243.7" font-size="23.8" text-anchor="middle" textLength="40" lengthAdjust="spacingAndGlyphs" fill="#ffffff" stroke="#274431" stroke-width="0.25">D10</text>
<text x="61.8" y="1268.8" font-size="18" text-anchor="end" fill="#ffffff" >1</text>
<rect x="1028.5" y="437.9" width="23.1" height="12" fill="#e4e4e4"/>
<rect x="1028.5" y="463.2" width="23.1" height="12" fill="#e4e4e4"/>
<rect x="1078.8" y="437.9" width="23.1" height="12" fill="#e4e4e4"/>
<rect x="1078.8" y="463.2" width="23.1" height="12" fill="#e4e4e4"/>
<path d="M1025.5 428.5H1104.6V477.0L1096.0 485.0H1025.5Z" fill="none" stroke="#ffffff" stroke-width="1.6"/>
<text x="1065.0" y="424.8" font-size="23.8" text-anchor="middle" textLength="40" lengthAdjust="spacingAndGlyphs" fill="#ffffff" stroke="#274431" stroke-width="0.25">D17</text>
<rect x="1028.5" y="709.2" width="23.1" height="12" fill="#e4e4e4"/>
<rect x="1028.5" y="734.5" width="23.1" height="12" fill="#e4e4e4"/>
<rect x="1078.8" y="709.2" width="23.1" height="12" fill="#e4e4e4"/>
<rect x="1078.8" y="734.5" width="23.1" height="12" fill="#e4e4e4"/>
<path d="M1025.5 699.8H1104.6V748.3L1096.0 756.3H1025.5Z" fill="none" stroke="#ffffff" stroke-width="1.6"/>
<text x="1065.0" y="696.1" font-size="23.8" text-anchor="middle" textLength="40" lengthAdjust="spacingAndGlyphs" fill="#ffffff" stroke="#274431" stroke-width="0.25">D16</text>
<text x="1024.3" y="721.2" font-size="18" text-anchor="end" fill="#ffffff" >1</text>
<rect x="1028.5" y="983.9" width="23.1" height="12" fill="#e4e4e4"/>
<rect x="1028.5" y="1009.2" width="23.1" height="12" fill="#e4e4e4"/>
<rect x="1078.8" y="983.9" width="23.1" height="12" fill="#e4e4e4"/>
<rect x="1078.8" y="1009.2" width="23.1" height="12" fill="#e4e4e4"/>
<path d="M1025.5 974.5H1104.6V1023.0L1096.0 1031.0H1025.5Z" fill="none" stroke="#ffffff" stroke-width="1.6"/>
<text x="1065.0" y="970.8" font-size="23.8" text-anchor="middle" textLength="40" lengthAdjust="spacingAndGlyphs" fill="#ffffff" stroke="#274431" stroke-width="0.25">D15</text>
<text x="1024.3" y="995.9" font-size="18" text-anchor="end" fill="#ffffff" >1</text>
<rect x="1028.5" y="1242.5" width="23.1" height="12" fill="#e4e4e4"/>
<rect x="1028.5" y="1267.8" width="23.1" height="12" fill="#e4e4e4"/>
<rect x="1078.8" y="1242.5" width="23.1" height="12" fill="#e4e4e4"/>
<rect x="1078.8" y="1267.8" width="23.1" height="12" fill="#e4e4e4"/>
<path d="M1025.5 1233.1H1104.6V1281.6L1096.0 1289.6H1025.5Z" fill="none" stroke="#ffffff" stroke-width="1.6"/>
<text x="1065.0" y="1229.4" font-size="23.8" text-anchor="middle" textLength="40" lengthAdjust="spacingAndGlyphs" fill="#ffffff" stroke="#274431" stroke-width="0.25">D14</text>
<text x="1024.3" y="1254.5" font-size="18" text-anchor="end" fill="#ffffff" >1</text>
<circle cx="123.8" cy="1246.9" r="2.1" fill="#0e0a02"/>
</svg>
</body></html>
